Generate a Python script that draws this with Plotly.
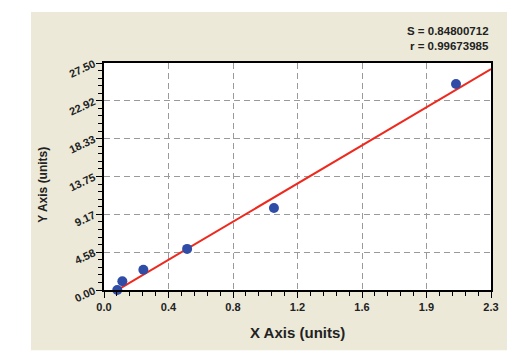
import plotly.graph_objects as go

# data
x_points = [0.079, 0.109, 0.234, 0.494, 1.010, 2.092]
y_points = [0.0, 1.06, 2.45, 4.98, 9.93, 24.96]
fit_x = [0.06, 2.3]
fit_y = [-0.24, 26.77]
x_tickvals = [0, 2.3/6, 2*2.3/6, 3*2.3/6, 4*2.3/6, 5*2.3/6, 2.3]
x_ticktext = ["0.0", "0.4", "0.8", "1.2", "1.6", "1.9", "2.3"]
y_tickvals = [0, 27.5/6, 2*27.5/6, 3*27.5/6, 4*27.5/6, 5*27.5/6, 27.5]
y_ticktext = ["0.00", "4.58", "9.17", "13.75", "18.33", "22.92", "27.50"]
stats = ["S = 0.84800712", "r = 0.99673985"]

FONT = "Liberation Sans, Arial, sans-serif"
BEIGE = "#ECE9D8"

fig = go.Figure()
fig.add_trace(go.Scatter(x=fit_x, y=fit_y, mode="lines",
                         line=dict(color="#EE2A1F", width=2), showlegend=False))
fig.add_trace(go.Scatter(x=x_points, y=y_points, mode="markers",
                         marker=dict(color="#2F4DA6", size=10, line=dict(width=0)),
                         showlegend=False, cliponaxis=False))

pw, ph = 387.0, 227.5
def px(v):
    return (v - 104) / pw
def py(v):
    return (290.5 - v) / ph

fig.add_shape(type="rect", xref="paper", yref="paper", x0=px(31), x1=px(507),
              y0=py(351), y1=py(12), fillcolor=BEIGE, line=dict(width=0), layer="below")
fig.add_shape(type="rect", xref="paper", yref="paper", x0=0, x1=1, y0=0, y1=1,
              fillcolor="white", line=dict(width=0), layer="below")

fig.add_annotation(xref="paper", yref="paper", x=px(491), y=py(31), text=f"<b>{stats[0]}</b>",
                   showarrow=False, xanchor="right", yanchor="middle",
                   font=dict(family=FONT, size=11.5, color="#222"))
fig.add_annotation(xref="paper", yref="paper", x=px(491), y=py(45.5), text=f"<b>{stats[1]}</b>",
                   showarrow=False, xanchor="right", yanchor="middle",
                   font=dict(family=FONT, size=11.5, color="#222"))
fig.add_annotation(xref="paper", yref="paper", x=px(297), y=py(333), text="<b>X Axis (units)</b>",
                   showarrow=False, xanchor="center", yanchor="middle",
                   font=dict(family=FONT, size=15, color="#222"))
fig.add_annotation(xref="paper", yref="paper", x=px(43), y=py(185), text="<b>Y Axis (units)</b>",
                   showarrow=False, xanchor="center", yanchor="middle", textangle=-90,
                   font=dict(family=FONT, size=12, color="#222"))

axis_common = dict(showline=True, linecolor="black", linewidth=1.5, mirror=True,
                   ticks="outside", ticklen=6, tickcolor="black", tickwidth=1,
                   showgrid=True, gridcolor="#9a9a9a", griddash="6px,4px", gridwidth=1,
                   zeroline=False, tickfont=dict(family=FONT, size=11, color="#222", weight="bold"))

fig.update_xaxes(range=[0, 2.3], tickmode="array", tickvals=x_tickvals, ticktext=x_ticktext,
                 minor=dict(ticks="outside", ticklen=4, tickcolor="black", dtick=2.3/30, showgrid=False),
                 **axis_common)
fig.update_yaxes(range=[0, 27.5], tickmode="array", tickvals=y_tickvals, ticktext=y_ticktext,
                 tickangle=-25,
                 minor=dict(ticks="outside", ticklen=4, tickcolor="black", dtick=27.5/30, showgrid=False),
                 **axis_common)

fig.update_layout(width=528, height=357, paper_bgcolor="white", plot_bgcolor="white",
                  margin=dict(l=104, r=37, t=63, b=66.5), showlegend=False)

fig.write_html("out.html")
